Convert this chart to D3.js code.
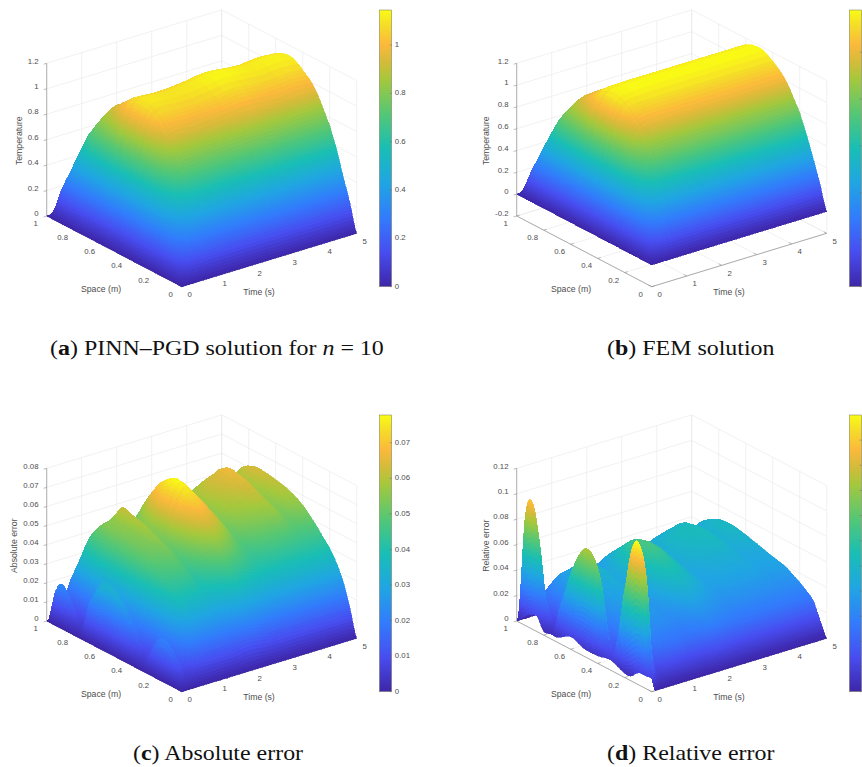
<!DOCTYPE html>
<html>
<head>
<meta charset="utf-8">
<title>PINN-PGD surfaces</title>
<script src="https://cdn.jsdelivr.net/npm/d3@7"></script>
<style>
  html, body { margin: 0; background: #fff; }
  svg { display: block; }
  .tick-label { font: 7.8px "Liberation Sans", sans-serif; fill: #4d4d4d; }
  .axis-label { font: 8.7px "Liberation Sans", sans-serif; fill: #4d4d4d; }
  .caption { font: 21px "Liberation Serif", serif; fill: #111; }
  .surface { filter: blur(.45px); }
  .surface polygon { shape-rendering: crispEdges; }
</style>
</head>
<body>
<svg id="chart" width="862" height="767"></svg>
<script>
const spaceValues = [0, .05, .1, .15, .2, .3, .4, .5, .6, .7, .75, .8, .85, .9, .95, 1];
const timeCoarse = [0, .1, .2, .3, .4, .5, .6, .8, 1, 1.5, 2, 2.5, 3, 3.5, 4, 4.5, 5];
const timeFine = [0, .05, .1, .2, .3, .4, .6, .8, 1, 1.2, 1.4, 1.6, 1.8, 2.1, 2.4, 2.7, 3, 3.3, 3.6, 4, 4.2, 4.5, 4.8, 5];

// rows are time, columns are space
const pinnSolution = [
  [0,0,0,0,0,0,0,0,0,0,0,0,0,0,0,0],
  [0,.07,.08,.1,.11,.13,.11,.11,.11,.12,.14,.14,.13,.12,.09,0],
  [0,.13,.2,.24,.26,.29,.29,.31,.3,.3,.31,.31,.31,.28,.19,0],
  [0,.17,.27,.35,.4,.47,.47,.5,.48,.47,.47,.47,.44,.37,.24,0],
  [0,.19,.32,.42,.51,.62,.65,.69,.67,.63,.63,.58,.54,.43,.25,0],
  [0,.2,.35,.48,.59,.74,.81,.86,.83,.76,.74,.69,.61,.47,.27,0],
  [0,.2,.37,.52,.65,.83,.91,.96,.93,.85,.81,.75,.66,.5,.27,0],
  [0,.21,.38,.56,.71,.91,1.03,1.08,1.04,.94,.89,.81,.7,.51,.28,0],
  [0,.21,.39,.57,.73,.94,1.06,1.11,1.07,.97,.92,.84,.71,.52,.28,0],
  [0,.21,.39,.57,.73,.93,1.05,1.1,1.06,.96,.91,.83,.71,.52,.27,0],
  [0,.21,.39,.57,.73,.94,1.05,1.105,1.065,.955,.905,.83,.705,.52,.265,0],
  [0,.21,.39,.58,.74,.95,1.065,1.12,1.08,.97,.92,.84,.715,.525,.27,0],
  [0,.21,.4,.59,.75,.965,1.085,1.14,1.1,.985,.935,.855,.73,.535,.275,0],
  [0,.21,.39,.58,.74,.955,1.07,1.125,1.085,.975,.925,.845,.72,.53,.27,0],
  [0,.21,.39,.58,.74,.945,1.06,1.115,1.075,.965,.915,.835,.71,.52,.27,0],
  [0,.21,.39,.58,.74,.96,1.075,1.13,1.09,.98,.93,.85,.72,.53,.27,0],
  [0,.21,.39,.58,.74,.95,1.065,1.12,1.08,.97,.92,.84,.715,.525,.27,0]
];

const femSolution = [
  [0,0,0,0,0,0,0,0,0,0,0,0,0,0,0,0],
  [0,.08,.1,.12,.13,.14,.13,.14,.14,.14,.15,.15,.15,.14,.11,0],
  [0,.14,.21,.26,.28,.31,.31,.33,.32,.32,.33,.32,.32,.29,.2,0],
  [0,.18,.29,.37,.42,.49,.5,.53,.51,.5,.5,.49,.46,.39,.25,0],
  [0,.2,.34,.45,.54,.65,.69,.73,.71,.67,.66,.62,.57,.46,.27,0],
  [0,.21,.37,.51,.63,.78,.85,.9,.87,.8,.78,.73,.65,.5,.29,0],
  [0,.21,.39,.56,.69,.87,.96,1.01,.98,.9,.86,.8,.7,.53,.29,0],
  [0,.22,.41,.59,.75,.96,1.08,1.13,1.09,.99,.94,.86,.75,.55,.3,0],
  [0,.22,.42,.6,.77,.99,1.11,1.17,1.13,1.02,.97,.89,.76,.56,.3,0],
  [0,.22,.42,.61,.78,1,1.12,1.18,1.14,1.03,.98,.9,.77,.57,.3,0],
  [0,.22,.42,.61,.78,1,1.12,1.18,1.14,1.03,.98,.9,.77,.57,.3,0],
  [0,.22,.42,.61,.78,1,1.12,1.18,1.14,1.03,.98,.9,.77,.57,.3,0],
  [0,.22,.42,.61,.78,1,1.12,1.18,1.14,1.03,.98,.9,.77,.57,.3,0],
  [0,.22,.42,.61,.78,1,1.12,1.18,1.14,1.03,.98,.9,.77,.57,.3,0],
  [0,.22,.42,.61,.78,1,1.12,1.18,1.14,1.03,.98,.9,.77,.57,.3,0],
  [0,.22,.42,.61,.78,1,1.12,1.18,1.14,1.03,.98,.9,.77,.57,.3,0],
  [0,.22,.42,.61,.78,1,1.12,1.18,1.14,1.03,.98,.9,.77,.57,.3,0]
];

const absError = [
  [0,0,0,0,0,0,0,0,0,0,0,0,0,0,0,0],
  [0,.01,.015,.017,.015,.005,.02,.03,.031,.019,.005,.008,.016,.021,.016,0],
  [0,.012,.018,.021,.019,.006,.022,.032,.033,.02,.006,.008,.016,.02,.016,0],
  [0,.009,.013,.015,.014,.012,.019,.024,.023,.016,.011,.01,.012,.013,.009,0],
  [0,.01,.016,.019,.022,.024,.027,.028,.028,.027,.025,.024,.021,.018,.012,0],
  [0,.012,.021,.027,.031,.035,.037,.038,.038,.038,.037,.036,.033,.027,.016,0],
  [0,.014,.026,.035,.04,.044,.047,.048,.048,.048,.047,.046,.044,.033,.02,0],
  [0,.014,.026,.034,.04,.046,.05,.052,.053,.054,.054,.053,.048,.038,.024,0],
  [0,.014,.026,.034,.04,.047,.051,.054,.055,.056,.056,.054,.049,.04,.025,0],
  [0,.014,.026,.034,.04,.047,.052,.056,.059,.061,.062,.056,.05,.041,.025,0],
  [0,.014,.025,.033,.038,.044,.049,.052,.054,.055,.055,.053,.048,.04,.024,0],
  [0,.014,.026,.034,.04,.047,.053,.057,.059,.056,.052,.047,.041,.033,.02,0],
  [0,.015,.027,.036,.042,.052,.06,.065,.068,.063,.058,.052,.045,.035,.021,0],
  [0,.016,.029,.039,.046,.058,.067,.074,.0775,.072,.066,.059,.05,.039,.023,0],
  [0,.015,.028,.037,.044,.055,.064,.07,.072,.068,.062,.056,.048,.037,.022,0],
  [0,.014,.027,.035,.042,.05,.058,.062,.064,.062,.058,.053,.046,.036,.021,0],
  [0,.014,.026,.034,.04,.046,.051,.054,.056,.056,.054,.05,.045,.036,.021,0],
  [0,.014,.026,.034,.04,.047,.053,.057,.059,.06,.059,.055,.05,.04,.024,0],
  [0,.014,.026,.034,.04,.048,.054,.058,.061,.062,.062,.059,.053,.044,.026,0],
  [0,.014,.026,.034,.04,.048,.055,.06,.063,.065,.065,.062,.056,.046,.027,0],
  [0,.014,.026,.034,.04,.048,.056,.06,.064,.066,.066,.063,.057,.046,.027,0],
  [0,.014,.026,.034,.04,.047,.052,.055,.057,.058,.058,.056,.051,.042,.025,0],
  [0,.014,.026,.034,.04,.048,.055,.059,.061,.063,.063,.061,.055,.045,.027,0],
  [0,.014,.026,.034,.04,.048,.055,.059,.061,.062,.062,.06,.055,.045,.027,0]
];

const relError = [
  [.0105,.01,.0095,.004,.0034,.008,.006,.006,.01,.004,.004,.003,.012,.011,.006,0],
  [.005,.08,.107,.105,.075,.012,.068,.083,.062,.025,.004,.028,.072,.0975,.083,0],
  [0,.05,.066,.065,.047,.012,.043,.052,.04,.02,.008,.02,.045,.06,.05,0],
  [0,.02,.035,.036,.03,.016,.025,.03,.025,.018,.012,.017,.027,.032,.02,0],
  [0,.012,.02,.023,.024,.023,.026,.027,.026,.024,.023,.023,.024,.022,.013,0],
  [0,.01,.02,.024,.026,.028,.029,.03,.03,.031,.03,.03,.028,.024,.014,0],
  [0,.012,.023,.028,.031,.034,.035,.036,.037,.038,.038,.037,.036,.03,.018,0],
  [0,.012,.024,.028,.032,.036,.038,.04,.041,.043,.043,.042,.04,.034,.02,0],
  [0,.012,.024,.028,.032,.036,.039,.041,.043,.045,.045,.043,.041,.035,.021,0],
  [0,.012,.024,.028,.032,.037,.04,.043,.046,.049,.05,.046,.043,.036,.022,0],
  [0,.012,.023,.027,.031,.035,.037,.04,.042,.044,.044,.043,.04,.035,.021,0],
  [0,.012,.024,.028,.032,.037,.041,.043,.046,.045,.042,.039,.036,.03,.018,0],
  [0,.013,.025,.03,.034,.041,.047,.051,.056,.052,.048,.044,.039,.032,.019,0],
  [0,.014,.027,.033,.038,.047,.054,.06,.066,.062,.056,.05,.044,.036,.021,0],
  [0,.013,.026,.032,.036,.045,.052,.058,.062,.059,.054,.048,.043,.035,.02,0],
  [0,.012,.025,.03,.034,.041,.046,.05,.053,.052,.05,.046,.041,.034,.019,0],
  [0,.012,.024,.029,.033,.038,.041,.043,.045,.046,.045,.043,.04,.033,.019,0],
  [0,.012,.024,.029,.033,.039,.042,.045,.048,.049,.049,.047,.044,.037,.022,0],
  [0,.012,.024,.029,.033,.039,.043,.046,.049,.051,.052,.05,.047,.04,.024,0],
  [0,.012,.024,.029,.033,.039,.043,.047,.051,.053,.053,.052,.05,.042,.025,0],
  [0,.012,.024,.029,.033,.039,.044,.047,.051,.053,.053,.052,.05,.042,.025,0],
  [0,.012,.024,.029,.033,.038,.041,.043,.046,.047,.047,.046,.044,.037,.022,0],
  [0,.012,.024,.029,.033,.039,.042,.045,.049,.051,.051,.05,.047,.041,.024,0],
  [0,.012,.024,.029,.033,.039,.042,.045,.048,.05,.05,.049,.046,.04,.024,0]
];

const timeTicks = [0, 1, 2, 3, 4, 5];
const spaceTicks = [0, .2, .4, .6, .8, 1];
const tempTicks = [0, .2, .4, .6, .8, 1, 1.2];
const femTicks = [-.2, 0, .2, .4, .6, .8, 1, 1.2];
const absTicks = [0, .01, .02, .03, .04, .05, .06, .07, .08];
const relTicks = [0, .02, .04, .06, .08, .1, .12];
const tempBarTicks = [0, .2, .4, .6, .8, 1];
const absBarTicks = [0, .01, .02, .03, .04, .05, .06, .07];
const relBarTicks = [0, .01, .02, .03, .04, .05, .06, .07, .08, .09, .1];

const parulaStops = [0, .125, .25, .375, .5, .625, .75, .8125, .875, .9375, 1];
const parulaColors = ['#3e26a8', '#484df0', '#327cfc', '#20a5e3', '#19beb5', '#54c775',
  '#a5c83c', '#d4bb3a', '#fbb93c', '#f5d92a', '#f9fb15'];

const svg = d3.select('#chart');

// Catmull-Rom through the read values, only to draw the faces smoothly
function spline(vals, u) {
  const n = vals.length;
  const i = Math.min(Math.floor(u), n - 2);
  const s = u - i;
  const p0 = vals[Math.max(i - 1, 0)], p1 = vals[i], p2 = vals[i + 1], p3 = vals[Math.min(i + 2, n - 1)];
  return .5 * (2 * p1 + (p2 - p0) * s + (2 * p0 - 5 * p1 + 4 * p2 - p3) * s * s + (3 * p1 - p0 - 3 * p2 + p3) * s * s * s);
}

// Steep intervals get more faces, so colour steps stay small
function drawSteps(series, span, cap) {
  const out = [];
  d3.range(series[0].length - 1).forEach(i => {
    const jump = d3.max(series, s => Math.abs(s[i + 1] - s[i]));
    const steps = Math.max(2, Math.min(cap, Math.ceil(jump / (span * .018))));
    d3.range(steps).forEach(k => out.push(i + k / steps));
  });
  out.push(series[0].length - 1);
  return out;
}

function drawPanel(p) {
  const g = svg.append('g').attr('transform', `translate(${p.dx}, ${p.dy})`);

  const timeX = d3.scaleLinear().domain([0, 5]).range([0, 175]);
  const timeY = d3.scaleLinear().domain([0, 5]).range([0, -53.4]);
  const spaceX = d3.scaleLinear().domain([0, 1]).range([0, -135]);
  const spaceY = d3.scaleLinear().domain([0, 1]).range([0, -70.7]);
  const zY = d3.scaleLinear().domain(d3.extent(p.zTicks)).range([0, -152.7]);
  const originX = 181.7, originY = 286.7;
  const project = (t, x, z) => [originX + timeX(t) + spaceX(x), originY + timeY(t) + spaceY(x) + zY(z)];

  const colorScale = d3.scaleLinear().domain(parulaStops.map(d => d * p.colorMax)).range(parulaColors).clamp(true);

  const line = (pts, color, w) => g.append('path')
    .attr('d', d3.line()(pts)).attr('fill', 'none').attr('stroke', color).attr('stroke-width', w);

  const zMin = zY.domain()[0], zMax = zY.domain()[1];
  const gridColor = '#e8e8e8';

  // Back walls and floor grid
  p.zTicks.forEach(z => line([project(0, 1, z), project(5, 1, z), project(5, 0, z)], gridColor, .6));
  timeTicks.forEach(t => {
    line([project(t, 1, zMin), project(t, 1, zMax)], gridColor, .6);
    line([project(t, 0, zMin), project(t, 1, zMin)], gridColor, .6);
  });
  spaceTicks.forEach(x => {
    line([project(5, x, zMin), project(5, x, zMax)], gridColor, .6);
    line([project(0, x, zMin), project(5, x, zMin)], gridColor, .6);
  });

  // Axis lines
  const axisColor = '#8c8c8c';
  line([project(0, 1, zMin), project(0, 1, zMax)], '#b0b0b0', 1);
  line([project(0, 0, zMin), project(0, 1, zMin)], axisColor, .7);
  line([project(0, 0, zMin), project(5, 0, zMin)], axisColor, .7);

  p.zTicks.forEach(z => {
    const [a, b] = project(0, 1, z);
    line([[a, b], [a - 3, b + .9]], axisColor, .6);
    g.append('text').attr('class', 'tick-label').attr('x', a - 8.2).attr('y', b - 1.8)
      .attr('text-anchor', 'end').attr('dominant-baseline', 'middle').text(String(z));
  });
  spaceTicks.forEach(x => {
    const [a, b] = project(0, x, zMin);
    line([[a, b], [a + 3, b - .9]], axisColor, .6);
    g.append('text').attr('class', 'tick-label').attr('x', a - 11).attr('y', b + 8)
      .attr('text-anchor', 'middle').attr('dominant-baseline', 'middle').text(String(x));
  });
  timeTicks.forEach(t => {
    const [a, b] = project(t, 0, zMin);
    line([[a, b], [a - 3, b - 1.6]], axisColor, .6);
    g.append('text').attr('class', 'tick-label').attr('x', a + 8).attr('y', b + 8.3)
      .attr('text-anchor', 'middle').attr('dominant-baseline', 'middle').text(String(t));
  });

  g.append('text').attr('class', 'axis-label').attr('x', 101).attr('y', 289.3)
    .attr('text-anchor', 'middle').attr('dominant-baseline', 'middle').text('Space (m)');
  g.append('text').attr('class', 'axis-label').attr('x', 259).attr('y', 292.7)
    .attr('text-anchor', 'middle').attr('dominant-baseline', 'middle').text('Time (s)');
  g.append('text').attr('class', 'axis-label')
    .attr('transform', `translate(${p.labelX}, 140.7) rotate(-90)`)
    .attr('text-anchor', 'middle').attr('dominant-baseline', 'middle').text(p.zLabel);

  // Surface, painted from the far corner forward
  const cols = spaceValues.length;
  const span = p.colorMax;
  const rowU = drawSteps(d3.transpose(p.values), span, 24);
  const colU = drawSteps(p.values, span, 10);
  const timeAt = d3.scaleLinear().domain(p.times.map((d, i) => i)).range(p.times);
  const spaceAt = d3.scaleLinear().domain(spaceValues.map((d, i) => i)).range(spaceValues);
  const fineZ = rowU.map(u => {
    const column = d3.range(cols).map(c => spline(p.values.map(row => row[c]), u));
    return colU.map(v => Math.max(0, spline(column, v)));
  });

  const faces = [];
  for (let c = colU.length - 2; c >= 0; c--) {
    for (let r = rowU.length - 2; r >= 0; r--) {
      const corners = [[r, c], [r + 1, c], [r + 1, c + 1], [r, c + 1]];
      faces.push({
        pts: corners.map(([a, b]) => project(timeAt(rowU[a]), spaceAt(colU[b]), fineZ[a][b])),
        z: d3.mean(corners, ([a, b]) => fineZ[a][b]),
      });
    }
  }

  g.append('g').attr('class', 'surface').selectAll('polygon')
    .data(faces)
    .join('polygon')
      .attr('points', d => d.pts.map(q => q.map(v => v.toFixed(1)).join(',')).join(' '))
      .attr('fill', d => colorScale(d.z))
      .attr('stroke', d => colorScale(d.z))
      .attr('stroke-width', .6);

  // Colorbar
  const barX = 379.3, barW = 12.4, barTop = 10, barBottom = 286.7;
  const barY = d3.scaleLinear().domain([0, p.colorMax]).range([barBottom, barTop]);
  const gradId = `bar-${p.id}`;
  const grad = g.append('linearGradient').attr('id', gradId)
    .attr('x1', 0).attr('x2', 0).attr('y1', 1).attr('y2', 0);
  grad.selectAll('stop').data(parulaStops).join('stop')
    .attr('offset', d => d)
    .attr('stop-color', (d, i) => parulaColors[i]);
  g.append('rect').attr('x', barX).attr('y', barTop).attr('width', barW).attr('height', barBottom - barTop)
    .attr('fill', `url(#${gradId})`).attr('stroke', '#8a8a70').attr('stroke-width', .6);
  p.barTicks.forEach(v => {
    line([[barX + barW - 2, barY(v)], [barX + barW, barY(v)]], '#666', .5);
    if (p.barLabels) {
      g.append('text').attr('class', 'tick-label').attr('x', barX + 15.5).attr('y', barY(v))
        .attr('dominant-baseline', 'middle').text(String(v));
    }
  });

  // Caption
  const cap = g.append('text').attr('class', 'caption')
    .attr('transform', `translate(${p.capX}, 355) scale(1.14, 1)`);
  cap.append('tspan').text('(');
  cap.append('tspan').attr('font-weight', 'bold').text(p.capLetter);
  cap.append('tspan').text(') ' + p.capText);
  if (p.capItalic) {
    cap.append('tspan').attr('font-style', 'italic').text(p.capItalic);
    cap.append('tspan').text(' = 10');
  }
}

drawPanel({ id: 'a', dx: 0, dy: 0, times: timeCoarse, values: pinnSolution, zTicks: tempTicks, zLabel: 'Temperature',
  labelX: 20, colorMax: 1.145, barTicks: tempBarTicks, barLabels: true,
  capX: 50, capLetter: 'a', capText: 'PINN\u2013PGD solution for ', capItalic: 'n' });
drawPanel({ id: 'b', dx: 470, dy: 0, times: timeCoarse, values: femSolution, zTicks: femTicks, zLabel: 'Temperature',
  labelX: 17, colorMax: 1.18, barTicks: tempBarTicks, barLabels: false,
  capX: 137, capLetter: 'b', capText: 'FEM solution' });
drawPanel({ id: 'c', dx: 0, dy: 405, times: timeFine, values: absError, zTicks: absTicks, zLabel: 'Absolute error',
  labelX: 15, colorMax: .0778, barTicks: absBarTicks, barLabels: true,
  capX: 133, capLetter: 'c', capText: 'Absolute error' });
drawPanel({ id: 'd', dx: 470, dy: 405, times: timeFine, values: relError, zTicks: relTicks, zLabel: 'Relative error',
  labelX: 17, colorMax: .11, barTicks: relBarTicks, barLabels: false,
  capX: 137, capLetter: 'd', capText: 'Relative error' });
</script>
</body>
</html>
